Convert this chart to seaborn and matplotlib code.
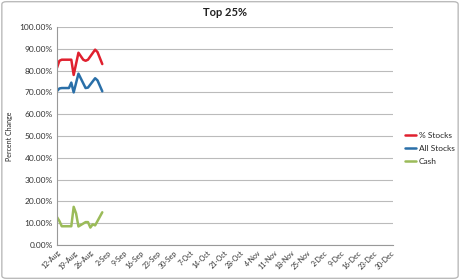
import numpy as np
import pandas as pd
import matplotlib
matplotlib.use("Agg")
import matplotlib.pyplot as plt
import matplotlib.dates as mdates
from matplotlib.patches import FancyBboxPatch
import seaborn as sns

# ---- data (day offset from 12-Aug-2013, value in %) ----
start_date = "2013-08-12"
series_names = ["% Stocks", "All Stocks", "Cash"]

pct_days = [0, 1, 2, 6, 7, 9, 11, 12, 13, 16, 17, 19]
pct_vals = [81.3, 84.5, 85.0, 85.0, 78.0, 88.2, 85.0, 84.5, 85.0, 89.6, 88.5, 83.0]

all_days = [0, 1, 2, 5, 6, 7, 9, 12, 13, 16, 17, 19]
all_vals = [70.6, 71.8, 72.0, 72.0, 74.5, 70.0, 78.6, 72.0, 72.2, 76.5, 75.5, 70.5]

cash_days = [0, 1, 2, 6, 7, 8, 9, 12, 13, 14, 15, 16, 19]
cash_vals = [12.8, 11.0, 8.6, 8.6, 17.5, 14.5, 8.5, 10.5, 10.5, 8.0, 9.5, 9.0, 15.0]

tick_count = 21  # weekly ticks 12-Aug .. 30-Dec
y_ticks = [0, 10, 20, 30, 40, 50, 60, 70, 80, 90, 100]

colors = ["#E0202E", "#2A6FA8", "#9BBB59"]

# ---- build long table ----
base = pd.Timestamp(start_date)
frames = []
for name, days, vals in zip(series_names, [pct_days, all_days, cash_days],
                            [pct_vals, all_vals, cash_vals]):
    frames.append(pd.DataFrame({
        "date": [base + pd.Timedelta(days=d) for d in days],
        "value": vals,
        "series": name,
    }))
df = pd.concat(frames, ignore_index=True)

sns.set_theme(style="white")
plt.rcParams["font.family"] = ["Lato", "DejaVu Sans"]

fig = plt.figure(figsize=(4.6, 2.8), dpi=100)
ax = fig.add_axes([57/460, 1-245/280, (393-57)/460, (245-27)/280])

sns.lineplot(data=df, x="date", y="value", hue="series", palette=colors,
             hue_order=series_names, ax=ax, linewidth=1.8, legend=True,
             sort=False, estimator=None)

ax.set_ylim(0, 100)
ax.set_yticks(y_ticks)
ax.set_yticklabels([f"{v:.2f}%" for v in y_ticks], fontsize=6, color="#333333")
ax.yaxis.grid(True, color="#BBBBBB", linewidth=0.8)
ax.xaxis.grid(False)

ticks = pd.date_range(base, periods=tick_count, freq="7D")
ax.set_xlim(base, base + pd.Timedelta(days=141))
ax.set_xticks(ticks)
ax.set_xticklabels([f"{t.day}-{t.strftime('%b')}" for t in ticks],
                   rotation=45, ha="right", rotation_mode="anchor",
                   fontsize=5, color="#333333")
ax.tick_params(axis="both", length=0, pad=3)

for s in ["top", "right"]:
    ax.spines[s].set_visible(False)
for s in ["left", "bottom"]:
    ax.spines[s].set_color("#999999")
    ax.spines[s].set_linewidth(0.8)

ax.set_xlabel("")
ax.set_ylabel("Percent Change", fontsize=5, color="#222222", labelpad=5)
ax.set_title("Top 25%", fontsize=8, fontweight="bold", color="#222222", pad=8)

leg = ax.legend(loc="center left", bbox_to_anchor=(1.025, 0.443), frameon=False,
                fontsize=6, handlelength=1.4, handletextpad=0.3,
                labelspacing=0.75, borderaxespad=0, borderpad=0.4)

fig.patches.append(FancyBboxPatch((0.004, 0.006), 0.992, 0.988,
                                  boxstyle="round,pad=0,rounding_size=0.01",
                                  transform=fig.transFigure, fill=False,
                                  edgecolor="#BBBBBB", linewidth=1.0))

fig.savefig("out.png", dpi=100)
